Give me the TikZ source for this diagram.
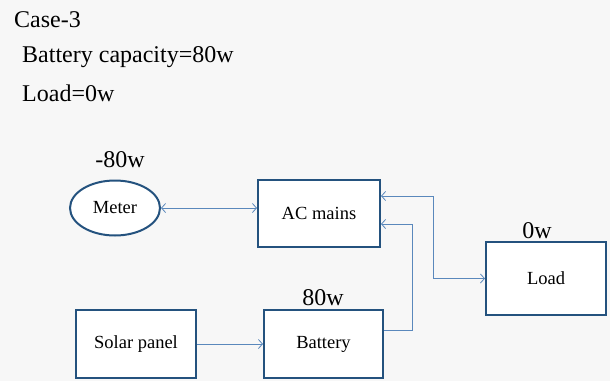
\documentclass[tikz,border=0pt]{standalone}
\usepackage{fontspec}
\setmainfont{Liberation Serif}
\usetikzlibrary{arrows.meta, shapes.geometric}
\definecolor{boxblue}{HTML}{24527E}
\definecolor{lineblue}{HTML}{5A88BC}

\begin{document}
\begin{tikzpicture}[
            x=1pt, y=-1pt,
            block/.style={rectangle, draw=boxblue, line width=2pt, fill=white,
                          minimum width=120pt, minimum height=67pt, align=center,
                          font=\fontsize{18.5}{22}\selectfont},
            meter/.style={ellipse, draw=boxblue, line width=2pt, fill=white,
                          minimum width=90pt, minimum height=55pt, inner sep=0pt,
                          font=\fontsize{18.5}{22}\selectfont},
            note/.style={font=\fontsize{24}{28}\selectfont, inner sep=0pt},
            link/.style={draw=lineblue, line width=0.8pt,
                         >={Straight Barb[length=4pt, width=9pt]}}
        ]
        \fill[black!3] (0,0) rectangle (610,381);
        \useasboundingbox (0,0) rectangle (610,381);

        \node[note, anchor=west] (case) at (14,20) {Case-3};
        \node[note, anchor=west] (capacity) at (22,57) {Battery capacity=80w};
        \node[note, anchor=west] (loadval) at (22,93) {Load=0w};

        \node[meter] (meter) at (115,208) {Meter};
        \node[block, minimum width=122pt] (ac) at (319,213.5) {AC mains};
        \node[block, minimum height=73pt] (load) at (546,278.5) {Load};
        \node[block, minimum height=68pt] (solar) at (136,344) {Solar panel};
        \node[block, minimum width=119pt, minimum height=68pt] (battery) at (323.5,344) {Battery};

        \node[note] (meterw) at (120,160) {-80w};
        \node[note] (loadw) at (537,231) {0w};
        \node[note] (batw) at (323,298) {80w};

        \coordinate (j1) at (433,196);
        \coordinate (j2) at (412,224);

        \draw[link, <->] (meter.east) -- (meter.east -| ac.west);
        \draw[link, ->] (solar) -- (battery);
        \draw[link, <->] (j1 -| ac.east) -- (j1) |- (load.west);
        \draw[link, ->] ([yshift=14pt]battery.east) -| (j2) -- (j2 -| ac.east);
        \end{tikzpicture}
\end{document}
